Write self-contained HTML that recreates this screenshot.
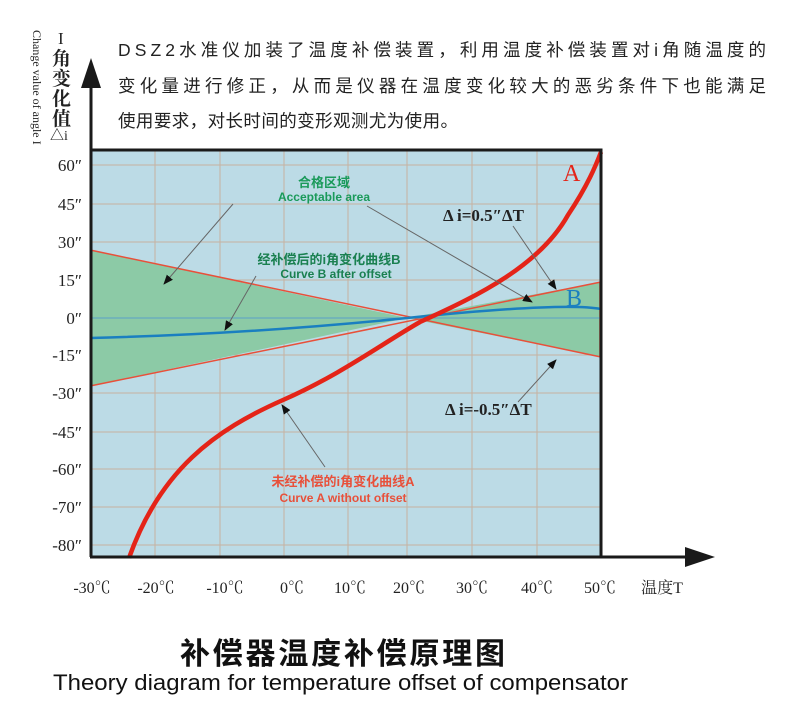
<!DOCTYPE html>
<html><head><meta charset="utf-8"><style>
body{margin:0;background:#fff;width:790px;height:720px;overflow:hidden}
svg{display:block}
.cn{font-family:"Liberation Serif","Noto Serif CJK SC",serif}
.sans{font-family:"Liberation Sans","Noto Sans CJK SC",sans-serif}
</style></head><body>
<svg width="790" height="720" viewBox="0 0 790 720">
<defs>
<marker id="ar" markerWidth="10" markerHeight="8" refX="9" refY="4" orient="auto" markerUnits="userSpaceOnUse"><path d="M0,0 L10,4 L0,8 Z" fill="#111"/></marker>
</defs>
<g font-family="'Liberation Sans','Noto Sans CJK SC',sans-serif" font-size="17.5" fill="#222">
<text x="118" y="56" textLength="648" lengthAdjust="spacing">DSZ2水准仪加装了温度补偿装置，利用温度补偿装置对i角随温度的</text>
<text x="118" y="92" textLength="648" lengthAdjust="spacing">变化量进行修正，从而是仪器在温度变化较大的恶劣条件下也能满足</text>
<text x="118" y="127" textLength="340" lengthAdjust="spacing">使用要求，对长时间的变形观测尤为使用。</text>
</g>
<rect x="90" y="150" width="511" height="407" fill="#bcdbe6"/>
<g stroke="#c9a98f" stroke-width="1" opacity="0.8">
<line x1="155" y1="150" x2="155" y2="557"/><line x1="220" y1="150" x2="220" y2="557"/>
<line x1="284" y1="150" x2="284" y2="557"/><line x1="348" y1="150" x2="348" y2="557"/>
<line x1="407" y1="150" x2="407" y2="557"/><line x1="472" y1="150" x2="472" y2="557"/>
<line x1="537" y1="150" x2="537" y2="557"/>
<line x1="90" y1="165" x2="601" y2="165"/><line x1="90" y1="204" x2="601" y2="204"/>
<line x1="90" y1="242" x2="601" y2="242"/><line x1="90" y1="280" x2="601" y2="280"/>
<line x1="90" y1="355" x2="601" y2="355"/>
<line x1="90" y1="393" x2="601" y2="393"/><line x1="90" y1="432" x2="601" y2="432"/>
<line x1="90" y1="469" x2="601" y2="469"/><line x1="90" y1="507" x2="601" y2="507"/>
<line x1="90" y1="545" x2="601" y2="545"/>
</g>
<polygon points="90,250 407,318 90,386" fill="#8ccaa6"/>
<polygon points="407,318 601,282 601,357" fill="#8ccaa6"/>
<g stroke="#e8503a" stroke-width="1.5" fill="none">
<line x1="90" y1="250" x2="601" y2="357"/><line x1="90" y1="386" x2="601" y2="282"/>
<line x1="91" y1="250" x2="91" y2="386"/><line x1="600" y1="282" x2="600" y2="357"/>
</g>
<line x1="90" y1="318" x2="601" y2="318" stroke="#5aa0c8" stroke-width="1"/>
<path d="M90,338 Q250,334 407,318 T601,309" stroke="#1a7fc0" stroke-width="2.5" fill="none"/>
<path d="M129,558 C160,470 215,430 283,400 C340,375 380,345 420,322 C480,295 540,265 568,215 C588,185 596,165 601,152" stroke="#e42418" stroke-width="4.5" fill="none"/>
<path d="M91,557 L91,150 L601,150 L601,557" stroke="#1a1a1a" stroke-width="3" fill="none"/>
<line x1="91" y1="150" x2="91" y2="78" stroke="#1a1a1a" stroke-width="3"/>
<polygon points="91,58 81,88 101,88" fill="#1a1a1a"/>
<line x1="90" y1="557" x2="695" y2="557" stroke="#1a1a1a" stroke-width="3"/>
<polygon points="715,557 685,547 685,567" fill="#1a1a1a"/>
<g stroke="#666" stroke-width="1" fill="none" marker-end="url(#ar)">
<line x1="233" y1="204" x2="164" y2="284"/>
<line x1="367" y1="206" x2="532" y2="302"/>
<line x1="256" y1="276" x2="225" y2="330"/>
<line x1="513" y1="226" x2="556" y2="289"/>
<line x1="518" y1="402" x2="556" y2="360"/>
<line x1="325" y1="467" x2="282" y2="405"/>
</g>
<g class="sans" font-weight="bold" text-anchor="middle">
<text x="324" y="187" font-size="13" fill="#1a9a5a">合格区域</text>
<text x="324" y="201" font-size="12" fill="#1a9a5a">Acceptable area</text>
<text x="329" y="264" font-size="13" fill="#1a8050">经补偿后的i角变化曲线B</text>
<text x="336" y="278" font-size="12" fill="#1a8050">Curve B after offset</text>
<text x="343" y="486" font-size="13" fill="#e8503a">未经补偿的i角变化曲线A</text>
<text x="343" y="502" font-size="12" fill="#e8503a">Curve A without offset</text>
</g>
<g class="cn" font-weight="bold" fill="#222" font-size="17">
<text x="443" y="221">Δ i=0.5″ΔT</text>
<text x="445" y="415">Δ i=-0.5″ΔT</text>
</g>
<text x="563" y="181" class="cn" font-size="24" fill="#e42418">A</text>
<text x="566" y="306" class="cn" font-size="24" fill="#1a7fc0">B</text>
<g class="cn" font-size="17" fill="#222" text-anchor="end">
<text x="82" y="171">60″</text><text x="82" y="210">45″</text><text x="82" y="248">30″</text>
<text x="82" y="286">15″</text><text x="82" y="324">0″</text><text x="82" y="361">-15″</text>
<text x="82" y="399">-30″</text><text x="82" y="438">-45″</text><text x="82" y="475">-60″</text>
<text x="82" y="513">-70″</text><text x="82" y="551">-80″</text>
</g>
<text class="cn" font-size="17" fill="#222" x="58" y="44">I</text>
<g class="cn" font-size="19" fill="#222" font-weight="bold">
<text x="52" y="65">角</text><text x="52" y="85">变</text><text x="52" y="105">化</text><text x="52" y="125">值</text>
</g>
<text class="cn" font-size="14" fill="#222" x="50" y="140">△i</text>
<text class="cn" font-size="12" fill="#222" transform="translate(33,30) rotate(90)">Change value of angle I</text>
<g class="cn" font-size="16" fill="#222" text-anchor="middle">
<text x="92" y="593">-30℃</text><text x="156" y="593">-20℃</text><text x="225" y="593">-10℃</text>
<text x="292" y="593">0℃</text><text x="350" y="593">10℃</text><text x="409" y="593">20℃</text>
<text x="472" y="593">30℃</text><text x="537" y="593">40℃</text><text x="600" y="593">50℃</text>
<text x="662" y="593">温度T</text>
</g>
<text class="sans" x="180" y="664" font-size="30" font-weight="bold" fill="#111" textLength="325" lengthAdjust="spacing">补偿器温度补偿原理图</text>
<text class="sans" x="53" y="690" font-size="22" fill="#111" textLength="575" lengthAdjust="spacingAndGlyphs">Theory diagram for temperature offset of compensator</text>
</svg>
</body></html>
